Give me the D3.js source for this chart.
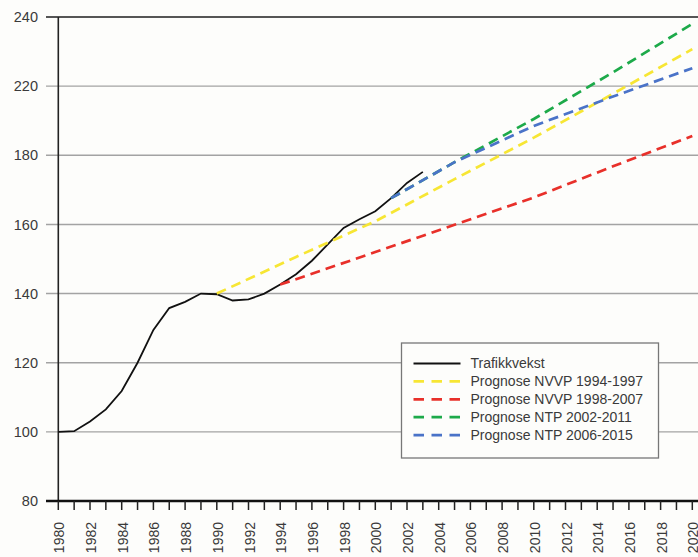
<!DOCTYPE html>
<html>
<head>
<meta charset="utf-8">
<script src="https://cdn.jsdelivr.net/npm/d3@7"></script>
<style>
  body { margin: 0; background: #fdfdfb; }
  svg { display: block; font-family: "Liberation Sans", Arial, sans-serif; }
</style>
</head>
<body>
<div id="chart"></div>
<script>
// traffic index
const years = [1980, 1981, 1982, 1983, 1984, 1985, 1986, 1987, 1988, 1989, 1990, 1991,
               1992, 1993, 1994, 1995, 1996, 1997, 1998, 1999, 2000, 2001, 2002, 2003];
const trafikk = [100, 100.2, 103, 106.5, 111.8, 120, 129.5, 135.8, 137.6, 140, 139.8, 138,
                 138.3, 140, 142.6, 145.6, 149.5, 154.2, 159, 161.5, 163.8, 167.6, 172, 175.2];

// forecasts
const nvvp94Years = [1990, 1995, 2000, 2005, 2010, 2015, 2020];
const nvvp94 = [140, 150.6, 160.9, 173.1, 185.1, 197.8, 210.7];
const nvvp98Years = [1994, 2000, 2005, 2010, 2015, 2020];
const nvvp98 = [142.6, 152, 159.9, 167.8, 176.8, 185.6];
const ntp02Years = [2001, 2005, 2010, 2015, 2020];
const ntp02 = [167.6, 178, 190.5, 204, 218];
const ntp06Years = [2001, 2005, 2010, 2015, 2020];
const ntp06 = [167.6, 178, 188.5, 197, 205.2];

// y ticks as printed (the picture skips 200)
const yTickValues = [80, 100, 120, 140, 160, 180, 200, 220];
const yTickLabels = ["80", "100", "120", "140", "160", "180", "220", "240"];
const xLabelYears = d3.range(1980, 2021, 2);

const seriesNames = ["Trafikkvekst", "Prognose NVVP 1994-1997", "Prognose NVVP 1998-2007",
                     "Prognose NTP 2002-2011", "Prognose NTP 2006-2015"];
const seriesColors = ["#111111", "#f7e634", "#e8302a", "#1daa4a", "#4a73c8"];

function chart(w = 698, h = 557) {
  const svg = d3.create("svg")
    .attr("width", w)
    .attr("height", h)
    .attr("viewBox", [0, 0, w, h]);

  let margin = { top: 17, right: 6, bottom: 56, left: 58 };

  let x = d3.scaleLinear().domain([1980, 2020]).range([margin.left + 0.3, 692.3]);
  let y = d3.scaleLinear().domain([80, 220]).range([h - margin.bottom, margin.top]);

  // gridlines (also act as the y ticks)
  svg.append("g").selectAll("line")
    .data(yTickValues)
    .enter()
    .append("line")
    .attr("x1", 46).attr("x2", w)
    .attr("y1", d => y(d)).attr("y2", d => y(d))
    .style("stroke", (d, i) => i == yTickValues.length - 1 ? "#555" : "#a3a3a3")
    .style("stroke-width", (d, i) => i == yTickValues.length - 1 ? 2 : 1.4);

  svg.append("g").selectAll("text")
    .data(yTickValues)
    .enter()
    .append("text")
    .attr("x", 38)
    .attr("y", d => y(d))
    .attr("dy", "0.35em")
    .style("text-anchor", "end")
    .style("font-size", "14.5px")
    .style("fill", "#3a3a3a")
    .text((d, i) => yTickLabels[i]);

  // y axis line
  svg.append("line")
    .attr("x1", x(1980)).attr("x2", x(1980))
    .attr("y1", y(220)).attr("y2", y(80))
    .style("stroke", "#222").style("stroke-width", 1.6);

  // x axis
  svg.append("line")
    .attr("x1", 46).attr("x2", w)
    .attr("y1", y(80)).attr("y2", y(80))
    .style("stroke", "#111").style("stroke-width", 2.6);

  svg.append("g").selectAll("line")
    .data(d3.range(1980, 2021))
    .enter()
    .append("line")
    .attr("x1", d => x(d)).attr("x2", d => x(d))
    .attr("y1", y(80)).attr("y2", y(80) + 9)
    .style("stroke", "#222").style("stroke-width", 1.5);

  svg.append("g").selectAll("text")
    .data(xLabelYears)
    .enter()
    .append("text")
    .attr("transform", d => `translate(${x(d) + 1},${y(80) + 21}) rotate(-90)`)
    .attr("dy", "0.36em")
    .style("text-anchor", "end")
    .style("font-size", "14px")
    .style("fill", "#3a3a3a")
    .text(d => d);

  // lines
  const line = d3.line().x(d => x(d[0])).y(d => y(d[1]));
  const series = [
    d3.zip(years, trafikk),
    d3.zip(nvvp94Years, nvvp94),
    d3.zip(nvvp98Years, nvvp98),
    d3.zip(ntp02Years, ntp02),
    d3.zip(ntp06Years, ntp06)
  ];

  svg.append("g").selectAll("path")
    .data(series)
    .enter()
    .append("path")
    .attr("d", line)
    .style("fill", "none")
    .style("stroke", (d, i) => seriesColors[i])
    .style("stroke-width", (d, i) => i == 0 ? 1.8 : 2.7)
    .style("stroke-dasharray", (d, i) => i == 0 ? null : "10,6");

  // legend
  const lg = svg.append("g").attr("transform", "translate(401.5,343)");
  lg.append("rect")
    .attr("width", 257).attr("height", 115)
    .style("fill", "#fdfdfb")
    .style("stroke", "#777").style("stroke-width", 1.3);

  const rows = lg.selectAll("g")
    .data(seriesNames)
    .enter()
    .append("g")
    .attr("transform", (d, i) => `translate(0,${20.5 + i * 17.9})`);

  rows.append("line")
    .attr("x1", 12).attr("x2", 59)
    .style("stroke", (d, i) => seriesColors[i])
    .style("stroke-width", (d, i) => i == 0 ? 2 : 2.8)
    .style("stroke-dasharray", (d, i) => i == 0 ? null : "10.5,7.5");

  rows.append("text")
    .attr("x", 69)
    .attr("dy", "0.35em")
    .style("font-size", "14px")
    .style("fill", "#3a3a3a")
    .text(d => d);

  return svg.node();
}

document.getElementById("chart").appendChild(chart());
</script>
</body>
</html>
